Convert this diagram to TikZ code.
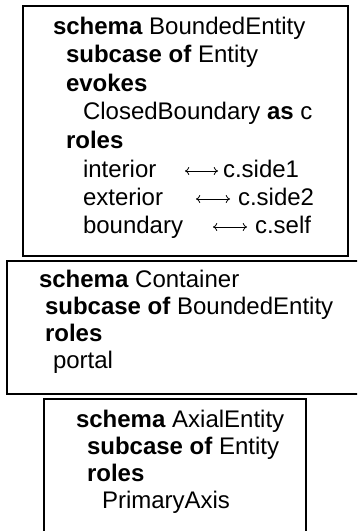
\documentclass[tikz,border=0pt]{standalone}
\usepackage{fontspec}
\setmainfont{Liberation Sans}
\usetikzlibrary{arrows.meta}
\tikzset{
  ln/.style={anchor=base west, inner sep=0pt, outer sep=0pt, font=\fontsize{18}{21}\selectfont},
  frame/.style={draw=black, line width=1.1pt},
  dbl/.style={line width=0.6pt, {Computer Modern Rightarrow[length=3.2pt,width=6pt]}-{Computer Modern Rightarrow[length=3.2pt,width=6pt]}}
}
\begin{document}
\begin{tikzpicture}[x=0.75pt,y=-0.75pt]
  \useasboundingbox (0,0) rectangle (357,531);
  \clip (0,0) rectangle (357,531);
  % boxes
  \draw[frame] (23,6) rectangle (348,256);
  \draw[frame] (7,261) rectangle (370,394);
  \draw[frame] (44,399) rectangle (306,545);
  % box 1
  \node[ln] (b1a) at (53,35)  {\textbf{schema} BoundedEntity};
  \node[ln] (b1b) at (66,63)  {\textbf{subcase of} Entity};
  \node[ln] (b1c) at (66,92)  {\textbf{evokes}};
  \node[ln] (b1d) at (83,120) {ClosedBoundary \textbf{as} c};
  \node[ln] (b1e) at (66,148) {\textbf{roles}};
  \node[ln] (b1f) at (83,177) {interior};
  \node[ln] (b1fb) at (223,177) {c.side1};
  \node[ln] (b1g) at (83,205) {exterior};
  \node[ln] (b1gb) at (238,205) {c.side2};
  \node[ln] (b1h) at (83,233) {boundary};
  \node[ln] (b1hb) at (255,233) {c.self};
  \coordinate (f1) at (185,171);
  \coordinate (f2) at (218,171);
  \coordinate (g1) at (196,199);
  \coordinate (g2) at (230,199);
  \coordinate (h1) at (213,227);
  \coordinate (h2) at (247,227);
  \draw[dbl] (f1) -- (f2);
  \draw[dbl] (g1) -- (g2);
  \draw[dbl] (h1) -- (h2);
  % box 2
  \node[ln] (b2a) at (39,287) {\textbf{schema} Container};
  \node[ln] (b2b) at (45,314) {\textbf{subcase of} BoundedEntity};
  \node[ln] (b2c) at (45,341) {\textbf{roles}};
  \node[ln] (b2d) at (53,368) {portal};
  % box 3
  \node[ln] (b3a) at (76,427) {\textbf{schema} AxialEntity};
  \node[ln] (b3b) at (87,454) {\textbf{subcase of} Entity};
  \node[ln] (b3c) at (87,481) {\textbf{roles}};
  \node[ln] (b3d) at (102,508) {PrimaryAxis};
\end{tikzpicture}
\end{document}
